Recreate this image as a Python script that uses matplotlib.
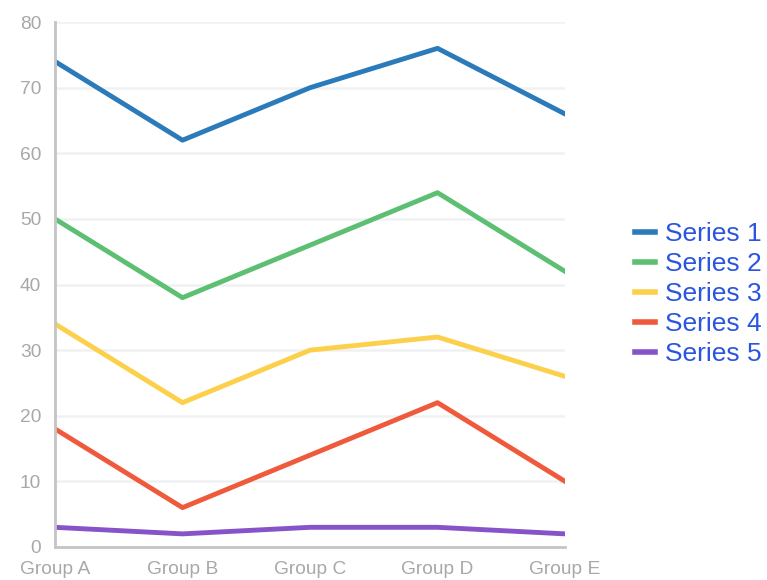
import matplotlib.pyplot as plt

# === Data ===
groups = ["Group A", "Group B", "Group C", "Group D", "Group E"]
series_1 = [74, 62, 70, 76, 66]
series_2 = [50, 38, 46, 54, 42]
series_3 = [34, 22, 30, 32, 26]
series_4 = [18, 6, 14, 22, 10]
series_5 = [3, 2, 3, 3, 2]
names = ["Series 1", "Series 2", "Series 3", "Series 4", "Series 5"]
colors = ["#2b7bba", "#5cbf72", "#fcd04b", "#f05a3c", "#8653c9"]

plt.rcParams['font.family'] = ['Liberation Sans', 'DejaVu Sans']

# === Plot ===
fig = plt.figure(figsize=(7.67, 5.80), dpi=100)
ax = fig.add_axes([0.0717, 0.0569, 0.665, 0.905])

x = range(len(groups))
for vals, name, c in zip([series_1, series_2, series_3, series_4, series_5], names, colors):
    ax.plot(x, vals, color=c, linewidth=3.5, label=name)

ax.set_xlim(0, 4)
ax.set_ylim(0, 80)
ax.set_yticks(range(0, 81, 10))
ax.set_xticks(list(x))
ax.set_xticklabels(groups)

ax.grid(axis="y", color="#f0f1f3", linewidth=1.8)
ax.set_axisbelow(True)
for side in ["top", "right"]:
    ax.spines[side].set_visible(False)
for side in ["left", "bottom"]:
    ax.spines[side].set_color("#c4c4c4")
    ax.spines[side].set_linewidth(2)
ax.tick_params(length=0, colors="#a8a8a8", labelsize=13.8, pad=10)
ax.tick_params(axis="x", pad=10)

leg = ax.legend(loc="center left", bbox_to_anchor=(1.137, 0.482), frameon=False,
                fontsize=19, handlelength=0.75, handletextpad=0.4,
                labelspacing=0.23, borderaxespad=0, borderpad=0)
for line in leg.get_lines():
    line.set_linewidth(4)
for t in leg.get_texts():
    t.set_color("#2b55e0")

plt.savefig("out.png")
